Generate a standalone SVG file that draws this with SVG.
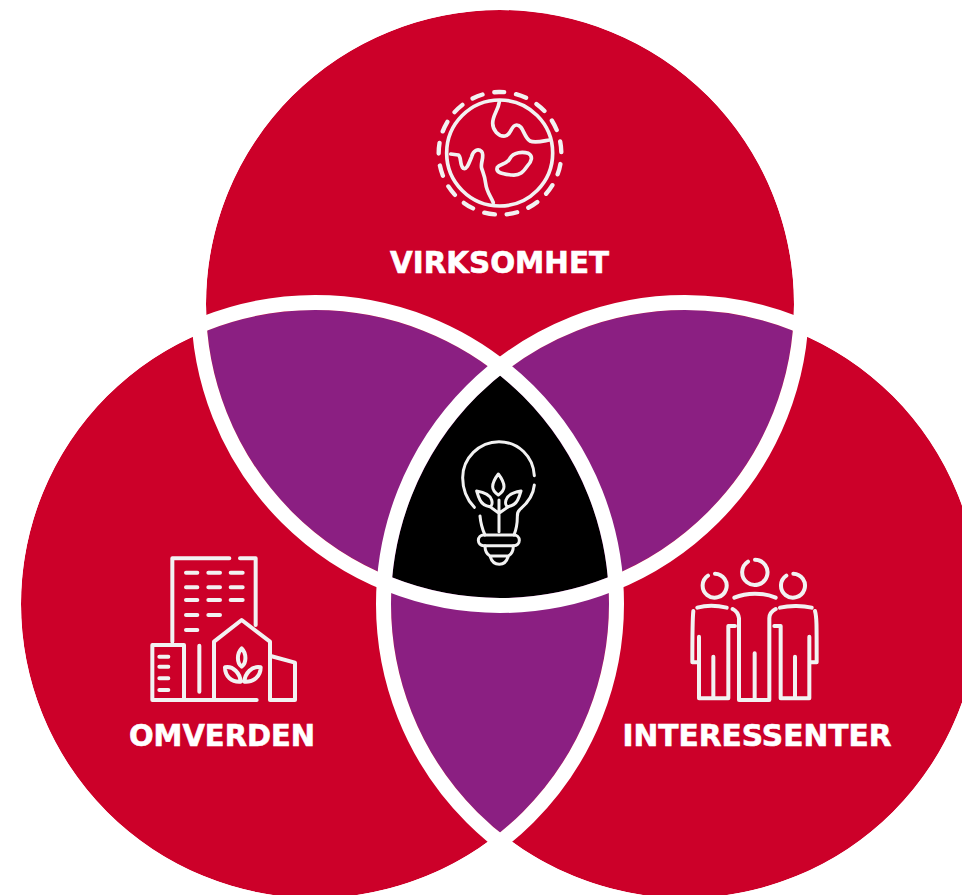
<svg xmlns="http://www.w3.org/2000/svg" width="962" height="895" viewBox="0 0 962 895">
<style>
.red{fill:#CC0029}
.ring{fill:none;stroke:#fff;stroke-width:15}
.ic{fill:none;stroke:#F2F2F2;stroke-linecap:round;stroke-linejoin:round}
.lb{font-family:"DejaVu Sans",sans-serif;font-weight:700;font-size:30px;fill:#fff;stroke:#fff;stroke-width:.6;text-anchor:middle}
</style>
<defs>
<circle id="a" cx="500" cy="304" r="294"/>
<circle id="b" cx="315" cy="604" r="294"/>
<circle id="c" cx="685" cy="604" r="294"/>
<clipPath id="ca"><use href="#a"/></clipPath>
<clipPath id="cb"><use href="#b"/></clipPath>
</defs>
<rect width="962" height="895" fill="#fff"/>
<g id="circles">
<use href="#a" class="red"/><use href="#b" class="red"/><use href="#c" class="red"/>
</g>
<g id="overlaps">
<g clip-path="url(#ca)"><use href="#b" fill="#8B1F82"/><use href="#c" fill="#8B1F82"/></g>
<g clip-path="url(#cb)"><use href="#c" fill="#8B1F82"/></g>
<g clip-path="url(#ca)"><g clip-path="url(#cb)"><use href="#c" fill="#000"/></g></g>
</g>
<g id="connectors">
<circle cx="500" cy="304" r="301.5" class="ring"/>
<circle cx="315" cy="604" r="301.5" class="ring"/>
<circle cx="685" cy="604" r="301.5" class="ring"/>
</g>
<g id="virksomhet">
<g class="ic" transform="translate(420 80) scale(.33333)" stroke-width="11">
<circle cx="239" cy="219" r="159"/>
<circle cx="240" cy="220" r="184" transform="rotate(-91 240 220)" stroke-width="13" stroke-dasharray="32 36.01" stroke-dashoffset="16"/>
<path d="M238 65C235 90 218 105 218 130C218 150 235 170 255 168C275 165 272 135 290 135C310 135 310 170 330 183C345 190 370 183 388 180"/>
<path d="M92 222L115 225C125 230 118 255 130 265C142 270 148 245 155 230C160 210 175 205 185 215C195 228 180 250 185 265C190 280 195 290 197 310C200 335 210 345 220 368"/>
<path d="M232 262C240 250 260 255 270 235C280 215 310 215 325 220C340 228 335 245 322 258C310 275 300 288 275 285C255 282 225 280 232 262Z"/>
</g>
<text class="lb" x="499.500" y="273" textLength="219" lengthAdjust="spacingAndGlyphs">VIRKSOMHET</text>
</g>
<g id="omverden">
<g class="ic" transform="translate(140 545) scale(.33333)" stroke-width="12">
<path d="M97 290V40H268M300 40H347V240"/>
<path d="M138 83H172M205 83H240M272 83H308M138 127H172M205 127H240M272 127H308M138 165H172M205 165H240M272 165H308M138 210H172M205 210H240M138 255H172"/>
<path d="M37 465V300H132V465M37 465H350M58 335H85M58 365H85M58 400H85M58 435H85M178 302V440"/>
<path d="M222 465V290L305 225L390 290V465M392 333L465 353V465H390"/>
<path d="M305 310C290 325 290 355 305 365C320 355 320 325 305 310ZM255 367C280 362 300 385 302 410C275 412 255 395 255 367ZM362 367C335 362 315 385 313 410C340 412 362 395 362 367Z"/>
</g>
<text class="lb" x="222" y="746" textLength="186" lengthAdjust="spacingAndGlyphs">OMVERDEN</text>
</g>
<g id="interessenter">
<g class="ic" transform="translate(680 545) scale(.33333)" stroke-width="12">
<path d="M204 50A38 38 0 1 0 225 44M84 92A36 36 0 1 0 105 86M319 92A36 36 0 1 0 340 86"/>
<path d="M163 158C200 142 250 142 287 158M52 188C80 180 115 182 140 188M300 188C330 180 370 182 395 188"/>
<path d="M40 198C38 215 37 230 37 352H55M57 275V460H145V243H165M100 335V460"/>
<path d="M158 192C170 198 175 205 177 220V465H268V220C268 205 275 198 287 192M224 325V465"/>
<path d="M283 243H302V460H388V275M405 198C410 215 410 230 410 352H390M345 335V460"/>
</g>
<text class="lb" x="757" y="746" textLength="269" lengthAdjust="spacingAndGlyphs">INTERESSENTER</text>
</g>
<g id="center">
<g class="ic" transform="translate(440 430) scale(.33333)" stroke-width="9">
<path d="M283 137C280 80 235 35 177 35C117 35 68 85 68 143C68 180 82 210 103 232"/>
<path d="M283 165C280 195 262 220 240 238C232 245 232 250 232 260C232 285 228 300 222 315M120 258C122 280 128 300 135 315"/>
<rect x="115" y="315" width="123" height="32" rx="16"/>
<path d="M135 347C135 365 140 372 150 378H205C215 372 220 365 220 347M150 378C155 395 165 403 178 403C190 403 200 395 205 378"/>
<path d="M177 305V210M177 250L150 230M177 250L205 230"/>
<path d="M175 132C165 145 158 160 158 170C158 180 168 190 175 195C182 190 192 180 192 170C192 160 185 145 175 132ZM110 183C130 186 150 195 155 210C158 220 155 228 150 230C135 228 125 220 120 210C115 200 112 190 110 183ZM243 183C223 186 203 195 198 210C195 220 198 228 203 230C218 228 228 220 233 210C238 200 241 190 243 183Z"/>
</g>
</g>
</svg>
